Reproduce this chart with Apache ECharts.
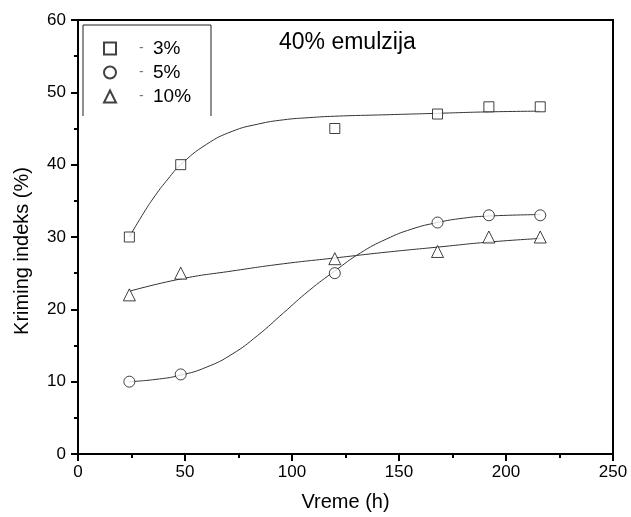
<!DOCTYPE html>
<html>
<head>
<meta charset="utf-8">
<script src="https://cdn.jsdelivr.net/npm/echarts@6/dist/echarts.min.js"></script>
<style>
  html, body { margin: 0; padding: 0; background: #fff; }
  #chart { width: 631px; height: 517px; }
</style>
</head>
<body>
<div id="chart"></div>
<script>
// measured points (Vreme h, Kriming indeks %)
var hours = [24, 48, 120, 168, 192, 216]
var emul3 = [30, 40, 45, 47, 48, 48]
var emul5 = [10, 11, 25, 32, 33, 33]
var emul10 = [22, 25, 27, 28, 30, 30]

// fitted curves
var fit3 = [[24, 30], [30, 33], [36, 35.7], [42, 38], [48, 40], [60, 42.8], [72, 44.6], [84, 45.6], [96, 46.2], [108, 46.5], [120, 46.7], [144, 46.9], [168, 47.1], [192, 47.3], [216, 47.4]]
var fit5 = [[24, 10], [36, 10.3], [48, 10.9], [60, 12], [72, 13.8], [84, 16.4], [96, 19.5], [108, 22.6], [120, 25.3], [132, 27.8], [144, 29.7], [156, 31.1], [168, 32], [180, 32.6], [192, 32.9], [216, 33.1]]
var fit10 = [[24, 22.5], [48, 24.2], [72, 25.3], [96, 26.3], [120, 27.1], [144, 27.9], [168, 28.6], [192, 29.3], [216, 29.8]]

var names = ['3%', '5%', '10%']

function pairs(ys) {
  return hours.map(function (h, i) { return [h, ys[i]] })
}

var font = 'Liberation Sans, Arial, sans-serif'

var myChart = echarts.init(document.getElementById('chart'))

function markerSeries(name, symbol, ys, size) {
  return {
    name: name,
    type: 'scatter',
    symbol: symbol,
    symbolSize: size,
    z: 5,
    itemStyle: { color: '#fff', borderColor: '#111', borderWidth: 1 },
    data: pairs(ys)
  }
}

function fitSeries(pts) {
  return {
    type: 'line',
    smooth: true,
    showSymbol: false,
    silent: true,
    lineStyle: { color: '#333', width: 1 },
    data: pts
  }
}

var option = {
  animation: false,
  textStyle: { fontFamily: font },
  title: {
    text: '40% emulzija',
    left: 274,
    top: 26,
    textStyle: { fontFamily: font, fontSize: 23, fontWeight: 'normal', color: '#000' }
  },
  legend: {
    data: names,
    orient: 'vertical',
    left: 98,
    top: 34,
    itemWidth: 12,
    itemHeight: 12,
    itemGap: 5,
    formatter: function (n) { return '{d|-}{n|' + n + '}' },
    textStyle: {
      rich: {
        d: { color: '#777', fontSize: 14, width: 14, padding: [0, 0, 0, 18] },
        n: { color: '#000', fontSize: 19, fontFamily: font }
      }
    }
  },
  graphic: [
    {
      type: 'polyline',
      shape: { points: [[83, 116], [83, 25], [211, 25], [211, 116]] },
      style: { stroke: '#222', lineWidth: 1, fill: null }
    },
    {
      type: 'text',
      x: 22,
      y: 251,
      rotation: Math.PI / 2,
      style: {
        text: 'Kriming indeks (%)',
        font: '20px ' + font,
        fill: '#000',
        textAlign: 'center',
        textVerticalAlign: 'middle'
      }
    }
  ],
  grid: {
    left: 78,
    top: 20,
    right: 18,
    bottom: 62,
    show: true,
    borderColor: '#000',
    borderWidth: 2
  },
  xAxis: {
    type: 'value',
    min: 0,
    max: 250,
    interval: 50,
    name: 'Vreme (h)',
    nameLocation: 'middle',
    nameGap: 38,
    nameTextStyle: { fontSize: 20, color: '#000', fontFamily: font },
    axisLine: { lineStyle: { color: '#000', width: 2 } },
    axisTick: { length: 7, lineStyle: { color: '#000', width: 2 } },
    minorTick: { show: true, splitNumber: 2, length: 4, lineStyle: { color: '#000', width: 2 } },
    axisLabel: { fontSize: 17, color: '#000', margin: 10 },
    splitLine: { show: false }
  },
  yAxis: {
    type: 'value',
    min: 0,
    max: 60,
    interval: 10,
    axisLine: { lineStyle: { color: '#000', width: 2 } },
    axisTick: { length: 7, lineStyle: { color: '#000', width: 2 } },
    minorTick: { show: true, splitNumber: 2, length: 4, lineStyle: { color: '#000', width: 2 } },
    axisLabel: { fontSize: 17, color: '#000', margin: 12 },
    splitLine: { show: false }
  },
  series: [
    markerSeries('3%', 'rect', emul3, 10),
    markerSeries('5%', 'circle', emul5, 11),
    markerSeries('10%', 'triangle', emul10, 12),
    fitSeries(fit3),
    fitSeries(fit5),
    fitSeries(fit10)
  ]
}

option && myChart.setOption(option)
</script>
</body>
</html>
